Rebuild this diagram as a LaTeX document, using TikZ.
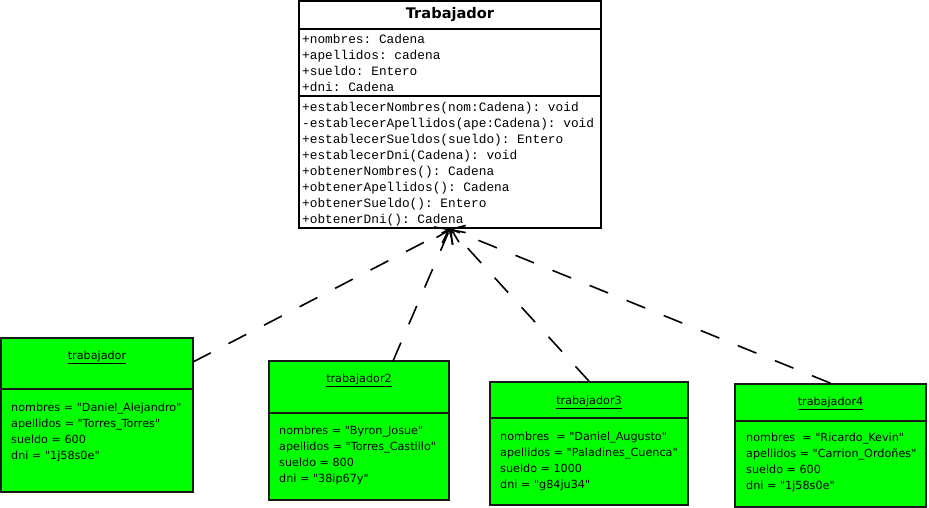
\documentclass[tikz,border=0pt]{standalone}
\usepackage{fontspec}
\setmainfont{DejaVu Sans}
\newfontfamily\objf{DejaVu Sans}
\newfontfamily\monof{Liberation Mono}
\usetikzlibrary{arrows.meta}
\definecolor{objgreen}{RGB}{0,255,0}
\definecolor{edgegray}{RGB}{25,25,25}
\tikzset{
  classbox/.style={draw=black, line width=1.6pt, fill=white, minimum width=302pt, minimum height=227pt, inner sep=0pt},
  sepline/.style={line width=1.6pt},
  objbox/.style={draw=edgegray, line width=1.6pt, fill=objgreen, inner sep=0pt},
  mono/.style={font=\monof\frenchspacing\fontsize{12.8}{14}\selectfont, anchor=west, inner sep=0pt, text height=10pt, text depth=1pt},
  ctitle/.style={font=\objf\bfseries\fontsize{14.6}{16}\selectfont, inner sep=0pt},
  otitle/.style={font=\objf\fontsize{11.2}{13}\selectfont, inner sep=0pt},
  otext/.style={font=\objf\frenchspacing\fontsize{11.2}{13}\selectfont, anchor=west, inner sep=0pt, text height=8pt, text depth=2.5pt},
  dep/.style={line width=1.6pt, dash pattern=on 20pt off 20pt, -{Straight Barb[length=12pt,width=18pt]}}
}
\begin{document}
\begin{tikzpicture}[x=1pt,y=-1pt]
\useasboundingbox (0,0) rectangle (929,508);
% class
\node[classbox] (cls) at (450,114.5) {};
\node[ctitle] (clsname) at (450,15) {Trabajador};
\draw[sepline] (cls.west |- {(0,29)}) -- (cls.east |- {(0,29)});
\draw[sepline] (cls.west |- {(0,96)}) -- (cls.east |- {(0,96)});
\node[mono] (a1) at (302,39) {+nombres: Cadena};
\node[mono] (a2) at (302,55) {+apellidos: cadena};
\node[mono] (a3) at (302,71) {+sueldo: Entero};
\node[mono] (a4) at (302,87) {+dni: Cadena};
\node[mono] (m1) at (302,107) {+establecerNombres(nom:Cadena): void};
\node[mono] (m2) at (302,123) {-establecerApellidos(ape:Cadena): void};
\node[mono] (m3) at (302,139) {+establecerSueldos(sueldo): Entero};
\node[mono] (m4) at (302,155) {+establecerDni(Cadena): void};
\node[mono] (m5) at (302,171) {+obtenerNombres(): Cadena};
\node[mono] (m6) at (302,187) {+obtenerApellidos(): Cadena};
\node[mono] (m7) at (302,203) {+obtenerSueldo(): Entero};
\node[mono] (m8) at (302,219) {+obtenerDni(): Cadena};
% object 1
\node[objbox, minimum width=192pt, minimum height=154pt] (o1) at (97,415) {};
\draw[sepline, edgegray] (o1.west |- {(0,389)}) -- (o1.east |- {(0,389)});
\node[otitle] (o1t) at (97,357) {\underline{trabajador}};
\node[otext] (o1a) at (11,409) {nombres = "Daniel\_Alejandro"};
\node[otext] (o1b) at (11,425) {apellidos = "Torres\_Torres"};
\node[otext] (o1c) at (11,441) {sueldo = 600};
\node[otext] (o1d) at (11,457) {dni = "1j58s0e"};
% object 2
\node[objbox, minimum width=180pt, minimum height=139pt] (o2) at (359,430.5) {};
\draw[sepline, edgegray] (o2.west |- {(0,413)}) -- (o2.east |- {(0,413)});
\node[otitle] (o2t) at (359,380) {\underline{trabajador2}};
\node[otext] (o2a) at (279,432) {nombres = "Byron\_Josue"};
\node[otext] (o2b) at (279,448) {apellidos = "Torres\_Castillo"};
\node[otext] (o2c) at (279,464) {sueldo = 800};
\node[otext] (o2d) at (279,480) {dni = "38ip67y"};
% object 3
\node[objbox, minimum width=198pt, minimum height=123pt] (o3) at (589,443.5) {};
\draw[sepline, edgegray] (o3.west |- {(0,418)}) -- (o3.east |- {(0,418)});
\node[otitle] (o3t) at (589,402) {\underline{trabajador3}};
\node[otext] (o3a) at (500,437.5) {nombres~ = "Daniel\_Augusto"};
\node[otext] (o3b) at (500,453.5) {apellidos = "Paladines\_Cuenca"};
\node[otext] (o3c) at (500,469.5) {sueldo = 1000};
\node[otext] (o3d) at (500,485.5) {dni = "g84ju34"};
% object 4
\node[objbox, minimum width=191pt, minimum height=123pt] (o4) at (830.5,445.5) {};
\draw[sepline, edgegray] (o4.west |- {(0,421)}) -- (o4.east |- {(0,421)});
\node[otitle] (o4t) at (830.5,403) {\underline{trabajador4}};
\node[otext] (o4a) at (746,439) {nombres~ = "Ricardo\_Kevin"};
\node[otext] (o4b) at (746,455) {apellidos = "Carrion\_Ordoñes"};
\node[otext] (o4c) at (746,471) {sueldo = 600};
\node[otext] (o4d) at (746,487) {dni = "1j58s0e"};
% connectors
\coordinate (s1) at (193,362);
\coordinate (s2) at (393,361);
\draw[dep] (s1) -- (cls.south);
\draw[dep] (s2) -- (cls.south);
\draw[dep] (o3.north) -- (cls.south);
\draw[dep] (o4.north) -- (cls.south);
\end{tikzpicture}
\end{document}
